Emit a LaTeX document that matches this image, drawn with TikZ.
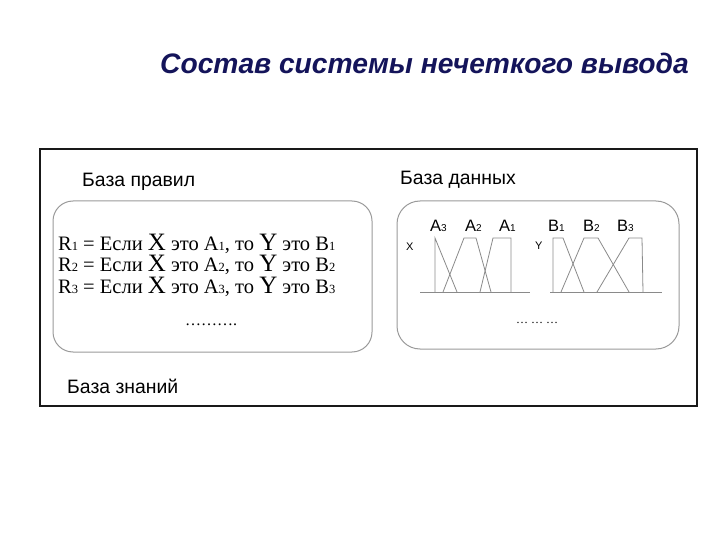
\documentclass[tikz,border=0pt]{standalone}
\usepackage{fontspec}
\setmainfont{Liberation Serif}
\setsansfont{Liberation Sans}
\usepackage{tikz}
\usetikzlibrary{positioning}
\definecolor{titleblue}{HTML}{14145A}
\definecolor{panelgray}{HTML}{9A9A9A}
\definecolor{mfgray}{HTML}{8A8A8A}
\newcommand{\idx}[1]{{\fontsize{12.5}{12.5}\selectfont #1}}
\newcommand{\bigvar}[1]{{\fontsize{25}{25}\selectfont #1}}
\newcommand{\sidx}[1]{{\fontsize{10}{10}\selectfont #1}}
\tikzstyle{heading} = [anchor=base west, inner sep=0pt, font=\sffamily\fontsize{19.4}{19.4}\selectfont]
\tikzstyle{rule} = [anchor=base west, inner sep=0pt, text height=14pt, text depth=4pt, font=\rmfamily\fontsize{20.5}{20.5}\selectfont]
\tikzstyle{panel} = [draw=panelgray, line width=1pt]
\tikzstyle{mf} = [draw=mfgray, line width=0.8pt]
\tikzstyle{setname} = [anchor=base west, inner sep=0pt, font=\sffamily\fontsize{16.5}{16.5}\selectfont]
\tikzstyle{varname} = [anchor=base west, inner sep=0pt, font=\sffamily\fontsize{11}{11}\selectfont]

\begin{document}
\begin{tikzpicture}[x=1pt, y=-1pt]
    \useasboundingbox (0,0) rectangle (720,540);

    \node[anchor=base west, inner sep=0pt, text=titleblue,
          font=\sffamily\bfseries\itshape\fontsize{28.2}{28.2}\selectfont] (title) at (160,74)
          {Состав системы нечеткого вывода};

    % outer frame and the two panels
    \draw[line width=2pt, draw=black!90] (40,149) rectangle (697,406);
    \draw[panel, rounded corners=20pt] (53,201) rectangle (372,352);
    \draw[panel, rounded corners=23pt] (397,201) rectangle (679,349);

    \node[heading] (rulesbase) at (82,187) {База правил};
    \node[heading] (database) at (400,185) {База данных};
    \node[heading] (knowbase) at (67,393) {База знаний};

    % rules
    \node[rule] (r1) at (58,250) {R\idx{1} = Если \bigvar{X} это A\idx{1}, то \bigvar{Y} это B\idx{1}};
    \node[rule] (r2) [below=21.7pt of r1.base west, anchor=base west] {R\idx{2} = Если \bigvar{X} это A\idx{2}, то \bigvar{Y} это B\idx{2}};
    \node[rule] (r3) [below=21.7pt of r2.base west, anchor=base west] {R\idx{3} = Если \bigvar{X} это A\idx{3}, то \bigvar{Y} это B\idx{3}};
    \node[rule, anchor=base, text height=, text depth=, font=\rmfamily\fontsize{16}{16}\selectfont] (rdots) at (211,325) {\dots\dots\dots.};

    % membership functions
    \draw[mf] (420,292) -- (530,292);
    \draw[mf] (550,292) -- (662,292);
    \foreach \a/\b/\c/\d in {435/435/435/457, 443/464/476/491, 480/493/511/511,
                             553/553/563/584, 561/584/598/629, 597/629/642/643}{%
      \draw[mf] (\a,292) -- (\b,238) -- (\c,238) -- (\d,292);
    }
    \node[varname] (xvar) at (406,250) {X};
    \node[varname] (yvar) at (535,249) {Y};
    \node[setname] (a3) at (430,231) {A\sidx{3}};
    \node[setname] (a2) at (465,231) {A\sidx{2}};
    \node[setname] (a1) at (499,231) {A\sidx{1}};
    \node[setname] (b1) at (548,231) {B\sidx{1}};
    \node[setname] (b2) at (583,231) {B\sidx{2}};
    \node[setname] (b3) at (617,231) {B\sidx{3}};
    \node[rule, anchor=base, text height=, text depth=, font=\rmfamily\fontsize{12}{12}\selectfont] (ddots) at (537,323) {\dots\ \dots\ \dots};
\end{tikzpicture}
\end{document}
